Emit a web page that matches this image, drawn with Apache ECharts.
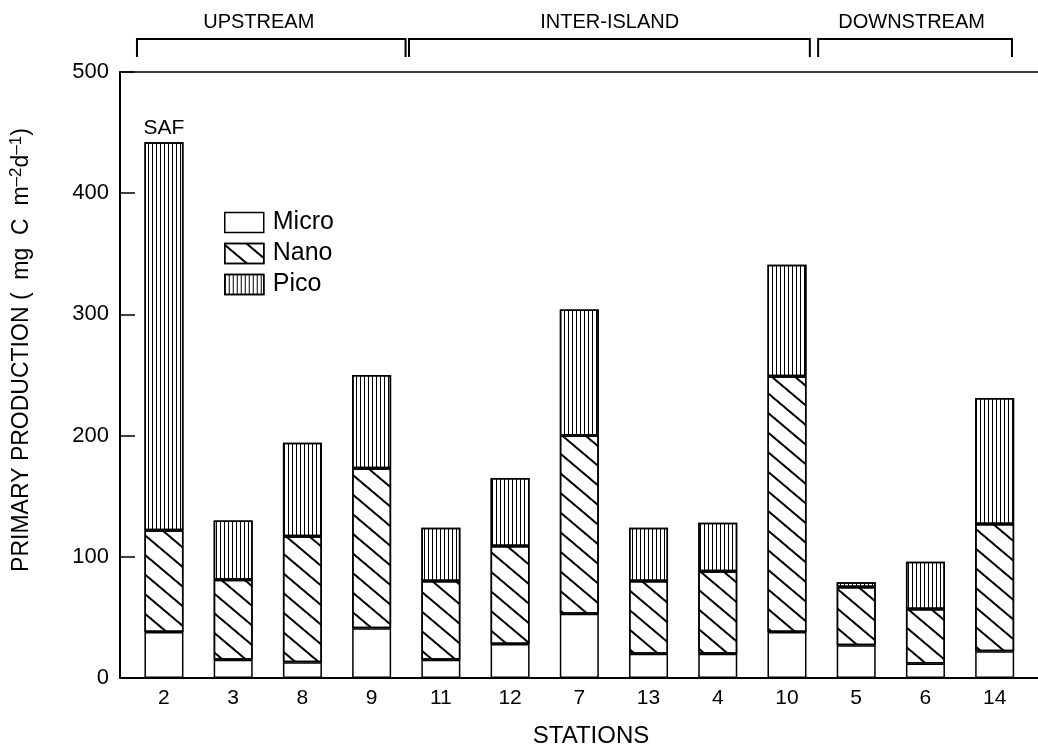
<!DOCTYPE html>
<html>
<head>
<meta charset="utf-8">
<script src="https://cdn.jsdelivr.net/npm/echarts@6/dist/echarts.min.js"></script>
<style>html,body{margin:0;padding:0;background:#fff}#c{width:1038px;height:753px}</style>
</head>
<body>
<div id="c"></div>
<script>
const stations = ['2','3','8','9','11','12','7','13','4','10','5','6','14'];
const micro = [38,15,13,41,15,28,53,20,20,38,27,12,22];
const nano  = [84,66,104,132,65,81,147,60,68,211,48,45,105];
const pico  = [320,49,77,77,44,56,104,44,40,92,4,39,104];
const yTicks = [0,100,200,300,400,500];
const groupNames = ['UPSTREAM','INTER-ISLAND','DOWNSTREAM'];
const groupStart = [-0.39, 3.54, 9.45];
const groupEnd   = [3.49, 9.33, 12.25];
const groupLabelAt = [1.37, 6.44, 10.8];

const FONT = '"Liberation Sans", Arial, Helvetica, sans-serif';
const idx = stations.map((s,i)=>i);
// value first, station position second (encode maps them), so that stacking applies to the value
const pairs = arr => arr.map((v,i)=>[v,i]);

const chart = echarts.init(document.getElementById('c'), null, {renderer:'canvas'});
const border = {borderColor:'#000', borderWidth:1.5};

const picoData = pairs(pico);
picoData[0] = {value: picoData[0], label:{show:true, position:'top', formatter:'SAF', distance:4, fontSize:21, color:'#000', fontFamily:FONT}};

chart.setOption({
  animation:false,
  backgroundColor:'#fff',
  textStyle:{fontFamily:FONT, color:'#000'},
  grid:{left:119, right:0, top:72, bottom:71},
  legend:{
    data:['Micro','Nano','Pico'], orient:'vertical', left:219, top:205,
    itemWidth:39, itemHeight:20, itemGap:6, icon:'rect',
    textStyle:{fontSize:25, color:'#000', fontFamily:FONT, padding:[0,0,0,4]},
    itemStyle:{borderColor:'#000', borderWidth:1.5}
  },
  xAxis:[{
    type:'value', min:-0.635, max:12.626, position:'bottom',
    axisLine:{show:true, onZero:false, lineStyle:{color:'#000', width:2}},
    axisTick:{show:false}, splitLine:{show:false},
    axisLabel:{customValues: idx, formatter: v => stations[Math.round(v)], color:'#000', fontSize:21, margin:10, fontFamily:FONT},
    name:'STATIONS', nameLocation:'middle', nameGap:46,
    nameTextStyle:{fontSize:24, color:'#000', fontFamily:FONT, padding:[0,0,0,24]}
  },{
    type:'value', min:-0.635, max:12.626, position:'top',
    axisLine:{show:true, onZero:false, lineStyle:{color:'#000', width:1.5}},
    axisTick:{show:false}, axisLabel:{show:false}, splitLine:{show:false}
  }],
  yAxis:{
    type:'value', min:0, max:500, interval:100,
    axisLine:{show:true, onZero:false, lineStyle:{color:'#000', width:2}},
    axisTick:{show:true, inside:true, length:15, lineStyle:{color:'#000', width:1.5}},
    splitLine:{show:false},
    axisLabel:{customValues: yTicks, color:'#000', fontSize:22, margin:11, fontFamily:FONT},
    name:'{n|PRIMARY PRODUCTION (  mg  C  m}{s|\u20132}{n|d}{s|\u20131}{n|)}',
    nameLocation:'middle', nameGap:84,
    nameTextStyle:{
      padding:[0,0,0,50],
      rich:{
        n:{fontSize:23, color:'#000', fontFamily:FONT},
        s:{fontSize:17, color:'#000', fontFamily:FONT, padding:[0,0,11,0]}
      }
    }
  },
  series:[
    {name:'Micro', type:'bar', stack:'t', barWidth:39, data:pairs(micro), encode:{x:1, y:0},
     itemStyle:Object.assign({color:'#fff'}, border)},
    {name:'Nano', type:'bar', stack:'t', barWidth:39, data:pairs(nano), encode:{x:1, y:0},
     itemStyle:Object.assign({color:'#fff', decal:{symbol:'rect', symbolSize:1, color:'#000', dashArrayX:[10,0], dashArrayY:[2,13], rotation:0.7}}, border)},
    {name:'Pico', type:'bar', stack:'t', barWidth:39, data:picoData, encode:{x:1, y:0},
     itemStyle:Object.assign({color:'#fff', decal:{symbol:'rect', symbolSize:1, color:'#000', dashArrayX:[1,3], dashArrayY:[10,0], rotation:0}}, border)},
    {name:'groups', type:'custom', clip:false, silent:true,
     data: groupNames.map((g,i)=>[groupStart[i], groupEnd[i], 500, i, groupLabelAt[i]]),
     encode:{x:[0,1], y:2},
     renderItem:function(params, api){
       const s = api.coord([api.value(0), 500]);
       const e = api.coord([api.value(1), 500]);
       const l = api.coord([api.value(4), 500]);
       const top = s[1]-33, low = s[1]-15;
       return {type:'group', children:[
         {type:'polyline', shape:{points:[[s[0],low],[s[0],top],[e[0],top],[e[0],low]]}, style:{stroke:'#000', lineWidth:2, fill:null}},
         {type:'text', style:{text:groupNames[api.value(3)], x:l[0], y:top-17, align:'center', verticalAlign:'middle', fill:'#000', fontSize:20, fontFamily:FONT}}
       ]};
     }}
  ]
});
</script>
</body>
</html>
